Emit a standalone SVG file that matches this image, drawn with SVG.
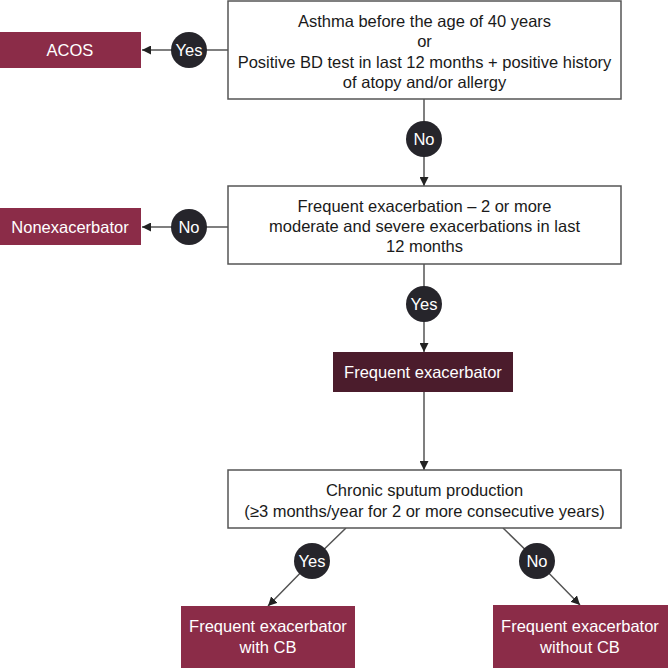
<svg xmlns="http://www.w3.org/2000/svg" width="668" height="668" viewBox="0 0 668 668">
<defs>
<style>
.box{fill:#fff;stroke:#555;stroke-width:1.5}
.red{fill:#8b2c48}
.dark{fill:#4b1c2c}
.t{font-family:"Liberation Sans",Arial,sans-serif;font-size:16.5px;fill:#1a1a1a;text-anchor:middle}
.w{font-family:"Liberation Sans",Arial,sans-serif;font-size:16.5px;fill:#fff;text-anchor:middle}
.c{fill:#26252b}
.ln{stroke:#555;stroke-width:1.5;fill:none}
</style>
<marker id="ah" viewBox="0 0 10 10" refX="10" refY="5" markerWidth="9" markerHeight="9" markerUnits="userSpaceOnUse" orient="auto">
<path d="M0,0 L10,5 L0,10 z" fill="#222"/>
</marker>
</defs>
<rect width="668" height="668" fill="#fff"/>
<g id="connectors">
<line class="ln" x1="228" y1="50" x2="142" y2="50" marker-end="url(#ah)"/>
<line class="ln" x1="424" y1="99" x2="424" y2="186" marker-end="url(#ah)"/>
<line class="ln" x1="228" y1="227" x2="142" y2="227" marker-end="url(#ah)"/>
<line class="ln" x1="424" y1="264" x2="424" y2="352" marker-end="url(#ah)"/>
<line class="ln" x1="424" y1="392" x2="424" y2="470" marker-end="url(#ah)"/>
<polyline class="ln" points="346,528 312,561 268,606" marker-end="url(#ah)"/>
<polyline class="ln" points="503,528 537,561 580,605" marker-end="url(#ah)"/>
</g>
<g id="q1">
<rect class="box" x="228" y="1" width="393" height="98"/>
<text class="t" x="424.5" y="27">Asthma before the age of 40 years</text>
<text class="t" x="424.5" y="47">or</text>
<text class="t" x="424.5" y="68">Positive BD test in last 12 months + positive history</text>
<text class="t" x="424.5" y="88">of atopy and/or allergy</text>
</g>
<g id="acos">
<rect class="red" x="0" y="32" width="141" height="36"/>
<text class="w" x="70" y="56">ACOS</text>
</g>
<g id="yes1"><circle class="c" cx="189" cy="50" r="18"/><text class="w" x="189" y="56">Yes</text></g>
<g id="no1"><circle class="c" cx="424" cy="139" r="18"/><text class="w" x="424" y="145">No</text></g>
<g id="q2">
<rect class="box" x="228" y="186" width="393" height="78"/>
<text class="t" x="424.5" y="212">Frequent exacerbation – 2 or more</text>
<text class="t" x="424.5" y="232">moderate and severe exacerbations in last</text>
<text class="t" x="424.5" y="252">12 months</text>
</g>
<g id="nonex">
<rect class="red" x="0" y="208" width="141" height="37"/>
<text class="w" x="70" y="233">Nonexacerbator</text>
</g>
<g id="no2"><circle class="c" cx="189" cy="227" r="18"/><text class="w" x="189" y="233">No</text></g>
<g id="yes2"><circle class="c" cx="424" cy="304" r="18"/><text class="w" x="424" y="310">Yes</text></g>
<g id="freq">
<rect class="dark" x="333" y="352" width="180" height="40"/>
<text class="w" x="423" y="378">Frequent exacerbator</text>
</g>
<g id="q3">
<rect class="box" x="228" y="470" width="393" height="58"/>
<text class="t" x="424.5" y="496">Chronic sputum production</text>
<text class="t" x="424.5" y="517">(≥3 months/year for 2 or more consecutive years)</text>
</g>
<g id="yes3"><circle class="c" cx="312" cy="561" r="18"/><text class="w" x="312" y="567">Yes</text></g>
<g id="no3"><circle class="c" cx="537" cy="561" r="18"/><text class="w" x="537" y="567">No</text></g>
<g id="withcb">
<rect class="red" x="181" y="606" width="174" height="62"/>
<text class="w" x="268" y="632">Frequent exacerbator</text>
<text class="w" x="268" y="653">with CB</text>
</g>
<g id="withoutcb">
<rect class="red" x="493" y="605" width="175" height="63"/>
<text class="w" x="580" y="632">Frequent exacerbator</text>
<text class="w" x="580" y="653">without CB</text>
</g>
</svg>
